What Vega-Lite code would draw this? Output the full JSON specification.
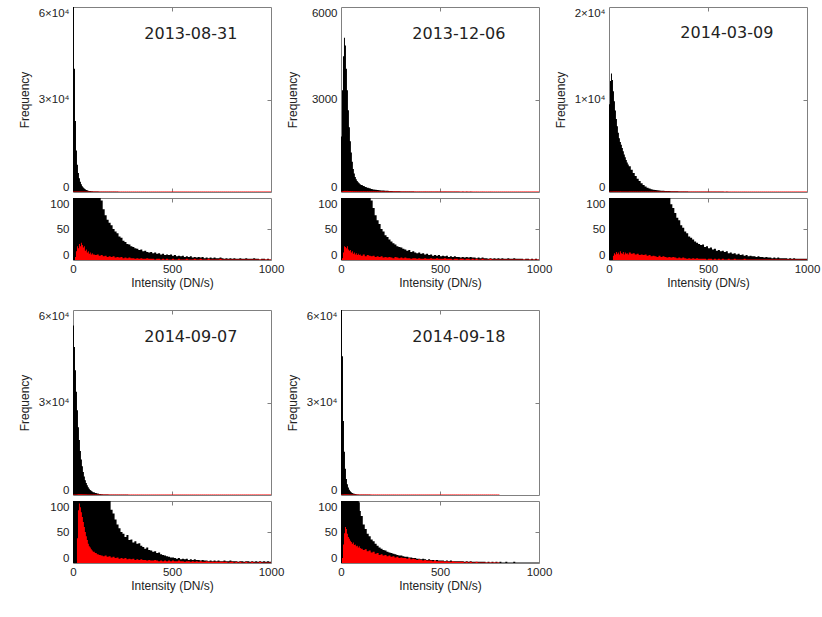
{
"$schema":"https://vega.github.io/schema/vega-lite/v6.json",
"padding":{"left":17,"top":6,"right":5,"bottom":5},
"config":{
 "view":{"stroke":"#808080","strokeWidth":1},
 "axis":{"labelFont":"Liberation Sans","labelFontSize":11.5,"labelColor":"#222","titleFont":"Liberation Sans","titleFontSize":12,"titleFontWeight":"normal","titleColor":"#222","domain":false,"grid":false,"tickColor":"#808080","labelFlush":false,"labelOverlap":false},
 "axisY":{"labelFlush":true}
},
"datasets":{
"p1":[{"x":0,"b":61000,"r":0},{"x":5,"b":40000,"r":0},{"x":10,"b":23000,"r":5},{"x":15,"b":13500,"r":14},{"x":20,"b":8800,"r":22},{"x":25,"b":6200,"r":19},{"x":30,"b":4500,"r":26},{"x":35,"b":3300,"r":22},{"x":40,"b":2500,"r":28},{"x":45,"b":1900,"r":24},{"x":50,"b":1450,"r":20},{"x":55,"b":1100,"r":22},{"x":60,"b":860,"r":15},{"x":65,"b":680,"r":17},{"x":70,"b":540,"r":12},{"x":75,"b":440,"r":14},{"x":80,"b":360,"r":10},{"x":85,"b":300,"r":12},{"x":90,"b":250,"r":9},{"x":95,"b":215,"r":11},{"x":100,"b":180,"r":9},{"x":110,"b":150,"r":8},{"x":120,"b":125,"r":9},{"x":130,"b":106,"r":7},{"x":140,"b":96,"r":8},{"x":150,"b":82,"r":6},{"x":160,"b":72,"r":7},{"x":170,"b":65,"r":5},{"x":180,"b":60,"r":6},{"x":190,"b":56,"r":5},{"x":200,"b":50,"r":6},{"x":210,"b":46,"r":4},{"x":220,"b":43,"r":5},{"x":230,"b":38,"r":4},{"x":240,"b":36,"r":5},{"x":250,"b":31,"r":3},{"x":260,"b":29,"r":4},{"x":270,"b":26,"r":3},{"x":280,"b":25,"r":4},{"x":290,"b":22,"r":3},{"x":300,"b":21,"r":3},{"x":310,"b":19,"r":2},{"x":320,"b":18,"r":3},{"x":330,"b":16,"r":2},{"x":340,"b":17,"r":3},{"x":350,"b":14,"r":2},{"x":360,"b":15,"r":2},{"x":370,"b":13,"r":3},{"x":380,"b":12,"r":2},{"x":390,"b":13,"r":2},{"x":400,"b":11,"r":2},{"x":410,"b":12,"r":1},{"x":420,"b":10,"r":2},{"x":430,"b":11,"r":2},{"x":440,"b":9,"r":1},{"x":450,"b":10,"r":2},{"x":460,"b":8,"r":1},{"x":470,"b":9,"r":2},{"x":480,"b":8,"r":1},{"x":490,"b":9,"r":1},{"x":500,"b":7,"r":2},{"x":510,"b":8,"r":1},{"x":520,"b":6,"r":1},{"x":530,"b":7,"r":2},{"x":540,"b":6,"r":1},{"x":550,"b":7,"r":1},{"x":560,"b":5,"r":1},{"x":570,"b":6,"r":2},{"x":580,"b":5,"r":1},{"x":590,"b":6,"r":1},{"x":600,"b":4,"r":1},{"x":610,"b":5,"r":2},{"x":620,"b":4,"r":1},{"x":630,"b":5,"r":1},{"x":640,"b":4,"r":2},{"x":650,"b":5,"r":1},{"x":660,"b":3,"r":1},{"x":670,"b":4,"r":1},{"x":680,"b":3,"r":2},{"x":690,"b":4,"r":1},{"x":700,"b":3,"r":1},{"x":710,"b":4,"r":1},{"x":720,"b":3,"r":1},{"x":730,"b":3,"r":1},{"x":740,"b":4,"r":2},{"x":750,"b":3,"r":1},{"x":760,"b":2,"r":1},{"x":770,"b":3,"r":1},{"x":780,"b":2,"r":1},{"x":790,"b":3,"r":1},{"x":800,"b":2,"r":1},{"x":810,"b":3,"r":1},{"x":820,"b":2,"r":1},{"x":830,"b":2,"r":1},{"x":840,"b":3,"r":1},{"x":850,"b":2,"r":1},{"x":860,"b":2,"r":1},{"x":870,"b":3,"r":1},{"x":880,"b":2,"r":1},{"x":890,"b":2,"r":1},{"x":900,"b":2,"r":1},{"x":910,"b":3,"r":1},{"x":920,"b":2,"r":1},{"x":930,"b":2,"r":1},{"x":940,"b":1,"r":1},{"x":950,"b":2,"r":1},{"x":960,"b":2,"r":1},{"x":970,"b":1,"r":1},{"x":980,"b":2,"r":1},{"x":990,"b":1,"r":1},{"x":1000,"b":1,"r":1}],
"p2":[{"x":0,"b":1800,"r":0},{"x":5,"b":3300,"r":3},{"x":10,"b":4400,"r":12},{"x":15,"b":5000,"r":22},{"x":20,"b":4750,"r":21},{"x":25,"b":4000,"r":19},{"x":30,"b":3300,"r":22},{"x":35,"b":2650,"r":17},{"x":40,"b":2100,"r":15},{"x":45,"b":1650,"r":16},{"x":50,"b":1280,"r":12},{"x":55,"b":980,"r":14},{"x":60,"b":750,"r":10},{"x":65,"b":600,"r":12},{"x":70,"b":490,"r":9},{"x":75,"b":410,"r":11},{"x":80,"b":360,"r":8},{"x":85,"b":320,"r":10},{"x":90,"b":285,"r":8},{"x":95,"b":255,"r":9},{"x":100,"b":230,"r":7},{"x":110,"b":195,"r":9},{"x":120,"b":165,"r":6},{"x":130,"b":140,"r":8},{"x":140,"b":118,"r":7},{"x":150,"b":96,"r":6},{"x":160,"b":84,"r":7},{"x":170,"b":72,"r":5},{"x":180,"b":64,"r":6},{"x":190,"b":58,"r":5},{"x":200,"b":50,"r":6},{"x":210,"b":46,"r":4},{"x":220,"b":40,"r":5},{"x":230,"b":37,"r":4},{"x":240,"b":33,"r":5},{"x":250,"b":30,"r":4},{"x":260,"b":27,"r":3},{"x":270,"b":25,"r":5},{"x":280,"b":22,"r":4},{"x":290,"b":21,"r":3},{"x":300,"b":20,"r":4},{"x":310,"b":18,"r":3},{"x":320,"b":17,"r":4},{"x":330,"b":15,"r":3},{"x":340,"b":16,"r":3},{"x":350,"b":13,"r":2},{"x":360,"b":14,"r":3},{"x":370,"b":12,"r":3},{"x":380,"b":11,"r":2},{"x":390,"b":12,"r":3},{"x":400,"b":10,"r":2},{"x":410,"b":11,"r":2},{"x":420,"b":9,"r":3},{"x":430,"b":10,"r":2},{"x":440,"b":8,"r":2},{"x":450,"b":9,"r":3},{"x":460,"b":7,"r":2},{"x":470,"b":8,"r":2},{"x":480,"b":7,"r":3},{"x":490,"b":8,"r":2},{"x":500,"b":6,"r":2},{"x":510,"b":7,"r":2},{"x":520,"b":6,"r":3},{"x":530,"b":7,"r":2},{"x":540,"b":5,"r":2},{"x":550,"b":6,"r":2},{"x":560,"b":5,"r":1},{"x":570,"b":6,"r":2},{"x":580,"b":5,"r":2},{"x":590,"b":5,"r":1},{"x":600,"b":4,"r":2},{"x":610,"b":5,"r":2},{"x":620,"b":4,"r":1},{"x":630,"b":5,"r":2},{"x":640,"b":4,"r":2},{"x":650,"b":5,"r":1},{"x":660,"b":4,"r":2},{"x":670,"b":4,"r":1},{"x":680,"b":3,"r":2},{"x":690,"b":4,"r":1},{"x":700,"b":3,"r":1},{"x":710,"b":4,"r":2},{"x":720,"b":3,"r":1},{"x":730,"b":3,"r":1},{"x":740,"b":2,"r":1},{"x":750,"b":3,"r":2},{"x":760,"b":2,"r":1},{"x":770,"b":3,"r":1},{"x":780,"b":2,"r":1},{"x":790,"b":3,"r":1},{"x":800,"b":2,"r":1},{"x":810,"b":3,"r":1},{"x":820,"b":2,"r":1},{"x":830,"b":2,"r":1},{"x":840,"b":3,"r":1},{"x":850,"b":2,"r":1},{"x":860,"b":2,"r":1},{"x":870,"b":3,"r":1},{"x":880,"b":2,"r":1},{"x":890,"b":2,"r":1},{"x":900,"b":2,"r":1},{"x":910,"b":2,"r":1},{"x":920,"b":1,"r":1},{"x":930,"b":2,"r":1},{"x":940,"b":2,"r":1},{"x":950,"b":1,"r":1},{"x":960,"b":2,"r":1},{"x":970,"b":1,"r":1},{"x":980,"b":2,"r":1},{"x":990,"b":1,"r":1},{"x":1000,"b":1,"r":1}],
"p3":[{"x":0,"b":9500,"r":0},{"x":5,"b":12000,"r":0},{"x":10,"b":12800,"r":0},{"x":15,"b":12100,"r":0},{"x":20,"b":10900,"r":7},{"x":25,"b":9800,"r":11},{"x":30,"b":8800,"r":9},{"x":35,"b":7900,"r":13},{"x":40,"b":7100,"r":10},{"x":45,"b":6400,"r":12},{"x":50,"b":5800,"r":9},{"x":55,"b":5400,"r":14},{"x":60,"b":5100,"r":11},{"x":65,"b":4750,"r":10},{"x":70,"b":4400,"r":13},{"x":75,"b":4050,"r":9},{"x":80,"b":3750,"r":12},{"x":85,"b":3450,"r":10},{"x":90,"b":3200,"r":11},{"x":95,"b":2980,"r":9},{"x":100,"b":2780,"r":12},{"x":110,"b":2400,"r":10},{"x":120,"b":2050,"r":11},{"x":130,"b":1730,"r":9},{"x":140,"b":1440,"r":10},{"x":150,"b":1180,"r":8},{"x":160,"b":950,"r":9},{"x":170,"b":760,"r":8},{"x":180,"b":600,"r":9},{"x":190,"b":470,"r":7},{"x":200,"b":370,"r":8},{"x":210,"b":300,"r":6},{"x":220,"b":250,"r":7},{"x":230,"b":210,"r":6},{"x":240,"b":180,"r":5},{"x":250,"b":155,"r":7},{"x":260,"b":138,"r":5},{"x":270,"b":125,"r":6},{"x":280,"b":114,"r":5},{"x":290,"b":108,"r":4},{"x":300,"b":102,"r":5},{"x":310,"b":90,"r":4},{"x":320,"b":84,"r":5},{"x":330,"b":76,"r":4},{"x":340,"b":68,"r":3},{"x":350,"b":64,"r":4},{"x":360,"b":56,"r":3},{"x":370,"b":52,"r":4},{"x":380,"b":46,"r":3},{"x":390,"b":43,"r":2},{"x":400,"b":38,"r":3},{"x":410,"b":36,"r":2},{"x":420,"b":33,"r":3},{"x":430,"b":30,"r":2},{"x":440,"b":28,"r":3},{"x":450,"b":26,"r":2},{"x":460,"b":24,"r":2},{"x":470,"b":25,"r":2},{"x":480,"b":21,"r":2},{"x":490,"b":22,"r":1},{"x":500,"b":19,"r":2},{"x":510,"b":20,"r":2},{"x":520,"b":17,"r":1},{"x":530,"b":18,"r":2},{"x":540,"b":15,"r":1},{"x":550,"b":16,"r":2},{"x":560,"b":14,"r":1},{"x":570,"b":15,"r":2},{"x":580,"b":13,"r":1},{"x":590,"b":14,"r":1},{"x":600,"b":11,"r":2},{"x":610,"b":12,"r":1},{"x":620,"b":10,"r":1},{"x":630,"b":11,"r":2},{"x":640,"b":9,"r":1},{"x":650,"b":10,"r":1},{"x":660,"b":8,"r":1},{"x":670,"b":9,"r":1},{"x":680,"b":7,"r":2},{"x":690,"b":8,"r":1},{"x":700,"b":6,"r":1},{"x":710,"b":7,"r":1},{"x":720,"b":6,"r":1},{"x":730,"b":6,"r":1},{"x":740,"b":5,"r":1},{"x":750,"b":6,"r":1},{"x":760,"b":5,"r":1},{"x":770,"b":5,"r":1},{"x":780,"b":4,"r":1},{"x":790,"b":5,"r":1},{"x":800,"b":4,"r":1},{"x":810,"b":4,"r":1},{"x":820,"b":3,"r":1},{"x":830,"b":4,"r":1},{"x":840,"b":3,"r":1},{"x":850,"b":4,"r":1},{"x":860,"b":3,"r":1},{"x":870,"b":3,"r":1},{"x":880,"b":3,"r":1},{"x":890,"b":3,"r":1},{"x":900,"b":2,"r":1},{"x":910,"b":3,"r":1},{"x":920,"b":2,"r":1},{"x":930,"b":3,"r":1},{"x":940,"b":2,"r":1},{"x":950,"b":2,"r":1},{"x":960,"b":2,"r":1},{"x":970,"b":2,"r":1},{"x":980,"b":2,"r":1},{"x":990,"b":2,"r":1},{"x":1000,"b":2,"r":1}],
"p4":[{"x":0,"b":55000,"r":0},{"x":5,"b":48000,"r":0},{"x":10,"b":40500,"r":0},{"x":15,"b":33500,"r":0},{"x":20,"b":27500,"r":40},{"x":25,"b":22000,"r":85},{"x":30,"b":17800,"r":96},{"x":35,"b":14300,"r":90},{"x":40,"b":11500,"r":82},{"x":45,"b":9300,"r":74},{"x":50,"b":7500,"r":66},{"x":55,"b":6000,"r":58},{"x":60,"b":4800,"r":50},{"x":65,"b":3900,"r":43},{"x":70,"b":3150,"r":37},{"x":75,"b":2550,"r":31},{"x":80,"b":2050,"r":27},{"x":85,"b":1650,"r":25},{"x":90,"b":1350,"r":22},{"x":95,"b":1100,"r":20},{"x":100,"b":900,"r":18},{"x":110,"b":640,"r":16},{"x":120,"b":460,"r":14},{"x":130,"b":340,"r":13},{"x":140,"b":250,"r":12},{"x":150,"b":190,"r":11},{"x":160,"b":150,"r":12},{"x":170,"b":122,"r":10},{"x":180,"b":104,"r":11},{"x":190,"b":86,"r":9},{"x":200,"b":80,"r":10},{"x":210,"b":70,"r":8},{"x":220,"b":62,"r":9},{"x":230,"b":56,"r":7},{"x":240,"b":50,"r":8},{"x":250,"b":47,"r":7},{"x":260,"b":42,"r":8},{"x":270,"b":45,"r":6},{"x":280,"b":37,"r":7},{"x":290,"b":38,"r":6},{"x":300,"b":33,"r":7},{"x":310,"b":35,"r":5},{"x":320,"b":31,"r":6},{"x":330,"b":32,"r":5},{"x":340,"b":28,"r":6},{"x":350,"b":26,"r":5},{"x":360,"b":23,"r":5},{"x":370,"b":25,"r":4},{"x":380,"b":21,"r":5},{"x":390,"b":20,"r":4},{"x":400,"b":18,"r":4},{"x":410,"b":19,"r":5},{"x":420,"b":16,"r":4},{"x":430,"b":17,"r":3},{"x":440,"b":14,"r":4},{"x":450,"b":13,"r":3},{"x":460,"b":12,"r":4},{"x":470,"b":11,"r":3},{"x":480,"b":10,"r":4},{"x":490,"b":9,"r":3},{"x":500,"b":9,"r":4},{"x":510,"b":8,"r":3},{"x":520,"b":7,"r":3},{"x":530,"b":8,"r":4},{"x":540,"b":6,"r":3},{"x":550,"b":7,"r":3},{"x":560,"b":6,"r":2},{"x":570,"b":7,"r":3},{"x":580,"b":5,"r":3},{"x":590,"b":6,"r":2},{"x":600,"b":5,"r":3},{"x":610,"b":6,"r":2},{"x":620,"b":5,"r":3},{"x":630,"b":5,"r":2},{"x":640,"b":4,"r":3},{"x":650,"b":5,"r":2},{"x":660,"b":4,"r":2},{"x":670,"b":4,"r":3},{"x":680,"b":3,"r":2},{"x":690,"b":4,"r":2},{"x":700,"b":3,"r":2},{"x":710,"b":4,"r":2},{"x":720,"b":3,"r":2},{"x":730,"b":4,"r":2},{"x":740,"b":3,"r":2},{"x":750,"b":3,"r":2},{"x":760,"b":4,"r":2},{"x":770,"b":3,"r":2},{"x":780,"b":3,"r":1},{"x":790,"b":4,"r":2},{"x":800,"b":3,"r":2},{"x":810,"b":3,"r":1},{"x":820,"b":3,"r":2},{"x":830,"b":2,"r":1},{"x":840,"b":3,"r":2},{"x":850,"b":3,"r":1},{"x":860,"b":2,"r":1},{"x":870,"b":3,"r":2},{"x":880,"b":3,"r":1},{"x":890,"b":2,"r":1},{"x":900,"b":3,"r":2},{"x":910,"b":2,"r":1},{"x":920,"b":3,"r":1},{"x":930,"b":2,"r":1},{"x":940,"b":3,"r":2},{"x":950,"b":2,"r":1},{"x":960,"b":3,"r":1},{"x":970,"b":2,"r":1},{"x":980,"b":3,"r":1},{"x":990,"b":2,"r":1},{"x":1000,"b":2,"r":1}],
"p5":[{"x":0,"b":64000,"r":0},{"x":5,"b":45000,"r":8},{"x":10,"b":24000,"r":30},{"x":15,"b":14000,"r":48},{"x":20,"b":8500,"r":58},{"x":25,"b":5200,"r":55},{"x":30,"b":3500,"r":47},{"x":35,"b":2400,"r":42},{"x":40,"b":1700,"r":39},{"x":45,"b":1200,"r":36},{"x":50,"b":880,"r":34},{"x":55,"b":660,"r":31},{"x":60,"b":500,"r":33},{"x":65,"b":380,"r":29},{"x":70,"b":290,"r":30},{"x":75,"b":220,"r":27},{"x":80,"b":165,"r":28},{"x":85,"b":125,"r":25},{"x":90,"b":98,"r":27},{"x":95,"b":84,"r":24},{"x":100,"b":76,"r":23},{"x":110,"b":62,"r":21},{"x":120,"b":55,"r":22},{"x":130,"b":47,"r":19},{"x":140,"b":43,"r":20},{"x":150,"b":38,"r":17},{"x":160,"b":35,"r":18},{"x":170,"b":31,"r":15},{"x":180,"b":28,"r":16},{"x":190,"b":25,"r":13},{"x":200,"b":23,"r":14},{"x":210,"b":21,"r":12},{"x":220,"b":20,"r":13},{"x":230,"b":18,"r":11},{"x":240,"b":17,"r":12},{"x":250,"b":16,"r":10},{"x":260,"b":15,"r":11},{"x":270,"b":14,"r":9},{"x":280,"b":13,"r":10},{"x":290,"b":12,"r":8},{"x":300,"b":12,"r":9},{"x":310,"b":11,"r":8},{"x":320,"b":10,"r":8},{"x":330,"b":10,"r":7},{"x":340,"b":9,"r":8},{"x":350,"b":9,"r":6},{"x":360,"b":8,"r":7},{"x":370,"b":8,"r":6},{"x":380,"b":7,"r":5},{"x":390,"b":7,"r":6},{"x":400,"b":6,"r":5},{"x":410,"b":7,"r":4},{"x":420,"b":6,"r":5},{"x":430,"b":5,"r":4},{"x":440,"b":6,"r":4},{"x":450,"b":5,"r":4},{"x":460,"b":5,"r":3},{"x":470,"b":4,"r":4},{"x":480,"b":5,"r":3},{"x":490,"b":4,"r":3},{"x":500,"b":4,"r":3},{"x":510,"b":4,"r":3},{"x":520,"b":3,"r":2},{"x":530,"b":4,"r":3},{"x":540,"b":3,"r":2},{"x":550,"b":4,"r":2},{"x":560,"b":3,"r":3},{"x":570,"b":3,"r":2},{"x":580,"b":3,"r":2},{"x":590,"b":3,"r":2},{"x":600,"b":3,"r":2},{"x":610,"b":3,"r":2},{"x":620,"b":2,"r":1},{"x":630,"b":3,"r":2},{"x":640,"b":2,"r":1},{"x":650,"b":3,"r":2},{"x":660,"b":2,"r":1},{"x":670,"b":2,"r":1},{"x":680,"b":2,"r":2},{"x":690,"b":2,"r":1},{"x":700,"b":2,"r":1},{"x":710,"b":2,"r":1},{"x":720,"b":2,"r":1},{"x":730,"b":1,"r":1},{"x":740,"b":2,"r":1},{"x":750,"b":1,"r":1},{"x":760,"b":2,"r":1},{"x":770,"b":1,"r":1},{"x":780,"b":2,"r":1},{"x":790,"b":1,"r":1},{"x":800,"b":2,"r":0},{"x":810,"b":1,"r":null},{"x":820,"b":1,"r":null},{"x":830,"b":2,"r":null},{"x":840,"b":1,"r":null},{"x":850,"b":1,"r":null},{"x":860,"b":1,"r":null},{"x":870,"b":2,"r":null},{"x":880,"b":1,"r":null},{"x":890,"b":1,"r":null},{"x":900,"b":1,"r":null},{"x":910,"b":1,"r":null},{"x":920,"b":1,"r":null},{"x":930,"b":1,"r":null},{"x":940,"b":1,"r":null},{"x":950,"b":1,"r":null},{"x":960,"b":1,"r":null},{"x":970,"b":1,"r":null},{"x":980,"b":1,"r":null},{"x":990,"b":1,"r":null},{"x":1000,"b":1,"r":null}]
},
"vconcat":[
{"hconcat":[
 {"data":{"name":"p1"},"spacing":4,"vconcat":[
  {"width":198,"height":185,"resolve":{"axis":{"x":"independent","y":"independent"}},"layer":[
   {"mark":{"type":"area","color":"#000000","clip":true,"interpolate":"step-after"},"encoding":{"x":{"field":"x","type":"quantitative","scale":{"domain":[0,1000],"nice":false},"axis":{"orient":"bottom","values":[500],"labels":false,"tickSize":-4,"labelPadding":0,"title":null,"minExtent":0,"maxExtent":0}},"y":{"field":"b","type":"quantitative","scale":{"domain":[0,60000],"nice":false},"axis":{"orient":"left","values":[0,30000,60000],"ticks":false,"labelPadding":4,"labelExpr":"datum.value == 0 ? '0' : format(datum.value/10000,'d') + '×10⁴'","title":"Frequency","minExtent":38,"maxExtent":38,"titlePadding":4}}}},
   {"mark":{"type":"area","color":"#ff0000","clip":true,"interpolate":"step-after","line":{"color":"#ff0000","strokeWidth":1}},"encoding":{"x":{"field":"x","type":"quantitative","axis":{"orient":"top","values":[500],"labels":false,"tickSize":-4,"labelPadding":0,"title":null,"minExtent":0,"maxExtent":0}},"y":{"field":"r","type":"quantitative","axis":{"orient":"right","values":[30000],"labels":false,"tickSize":-4,"labelPadding":0,"title":null,"minExtent":0,"maxExtent":0}}}},
   {"data":{"values":[{"d":"2013-08-31"}]},"mark":{"type":"text","font":"DejaVu Sans","fontSize":16,"color":"#222222"},"encoding":{"x":{"datum":595,"type":"quantitative","axis":null},"y":{"datum":51400,"type":"quantitative","axis":null},"text":{"field":"d"}}}
  ]},
  {"width":198,"height":62,"resolve":{"axis":{"x":"independent","y":"independent"}},"layer":[
   {"mark":{"type":"area","color":"#000000","clip":true,"interpolate":"step-after"},"encoding":{"x":{"field":"x","type":"quantitative","scale":{"domain":[0,1000],"nice":false},"axis":{"orient":"bottom","values":[0,500,1000],"format":"d","ticks":false,"labelPadding":3,"title":"Intensity (DN/s)","titlePadding":3}},"y":{"field":"b","type":"quantitative","scale":{"domain":[0,100],"nice":false},"axis":{"orient":"left","values":[0,50,100],"ticks":false,"labelPadding":4,"title":null,"minExtent":38,"maxExtent":38}}}},
   {"mark":{"type":"area","color":"#ff0000","clip":true,"interpolate":"step-after"},"encoding":{"x":{"field":"x","type":"quantitative","axis":{"orient":"top","values":[500],"labels":false,"tickSize":-4,"labelPadding":0,"title":null,"minExtent":0,"maxExtent":0}},"y":{"field":"r","type":"quantitative","axis":{"orient":"right","values":[50],"labels":false,"tickSize":-4,"labelPadding":0,"title":null,"minExtent":0,"maxExtent":0}}}}
  ]}
 ]},
 {"data":{"name":"p2"},"spacing":4,"vconcat":[
  {"width":198,"height":185,"resolve":{"axis":{"x":"independent","y":"independent"}},"layer":[
   {"mark":{"type":"area","color":"#000000","clip":true,"interpolate":"step-after"},"encoding":{"x":{"field":"x","type":"quantitative","scale":{"domain":[0,1000],"nice":false},"axis":{"orient":"bottom","values":[500],"labels":false,"tickSize":-4,"labelPadding":0,"title":null,"minExtent":0,"maxExtent":0}},"y":{"field":"b","type":"quantitative","scale":{"domain":[0,6000],"nice":false},"axis":{"orient":"left","values":[0,3000,6000],"format":"d","ticks":false,"labelPadding":4,"title":"Frequency","minExtent":38,"maxExtent":38,"titlePadding":4}}}},
   {"mark":{"type":"area","color":"#ff0000","clip":true,"interpolate":"step-after","line":{"color":"#ff0000","strokeWidth":1}},"encoding":{"x":{"field":"x","type":"quantitative","axis":{"orient":"top","values":[500],"labels":false,"tickSize":-4,"labelPadding":0,"title":null,"minExtent":0,"maxExtent":0}},"y":{"field":"r","type":"quantitative","axis":{"orient":"right","values":[3000],"labels":false,"tickSize":-4,"labelPadding":0,"title":null,"minExtent":0,"maxExtent":0}}}},
   {"data":{"values":[{"d":"2013-12-06"}]},"mark":{"type":"text","font":"DejaVu Sans","fontSize":16,"color":"#222222"},"encoding":{"x":{"datum":595,"type":"quantitative","axis":null},"y":{"datum":5140,"type":"quantitative","axis":null},"text":{"field":"d"}}}
  ]},
  {"width":198,"height":62,"resolve":{"axis":{"x":"independent","y":"independent"}},"layer":[
   {"mark":{"type":"area","color":"#000000","clip":true,"interpolate":"step-after"},"encoding":{"x":{"field":"x","type":"quantitative","scale":{"domain":[0,1000],"nice":false},"axis":{"orient":"bottom","values":[0,500,1000],"format":"d","ticks":false,"labelPadding":3,"title":"Intensity (DN/s)","titlePadding":3}},"y":{"field":"b","type":"quantitative","scale":{"domain":[0,100],"nice":false},"axis":{"orient":"left","values":[0,50,100],"ticks":false,"labelPadding":4,"title":null,"minExtent":38,"maxExtent":38}}}},
   {"mark":{"type":"area","color":"#ff0000","clip":true,"interpolate":"step-after"},"encoding":{"x":{"field":"x","type":"quantitative","axis":{"orient":"top","values":[500],"labels":false,"tickSize":-4,"labelPadding":0,"title":null,"minExtent":0,"maxExtent":0}},"y":{"field":"r","type":"quantitative","axis":{"orient":"right","values":[50],"labels":false,"tickSize":-4,"labelPadding":0,"title":null,"minExtent":0,"maxExtent":0}}}}
  ]}
 ]},
 {"data":{"name":"p3"},"spacing":4,"vconcat":[
  {"width":198,"height":185,"resolve":{"axis":{"x":"independent","y":"independent"}},"layer":[
   {"mark":{"type":"area","color":"#000000","clip":true,"interpolate":"step-after"},"encoding":{"x":{"field":"x","type":"quantitative","scale":{"domain":[0,1000],"nice":false},"axis":{"orient":"bottom","values":[500],"labels":false,"tickSize":-4,"labelPadding":0,"title":null,"minExtent":0,"maxExtent":0}},"y":{"field":"b","type":"quantitative","scale":{"domain":[0,20000],"nice":false},"axis":{"orient":"left","values":[0,10000,20000],"ticks":false,"labelPadding":4,"labelExpr":"datum.value == 0 ? '0' : format(datum.value/10000,'d') + '×10⁴'","title":"Frequency","minExtent":38,"maxExtent":38,"titlePadding":4}}}},
   {"mark":{"type":"area","color":"#ff0000","clip":true,"interpolate":"step-after","line":{"color":"#ff0000","strokeWidth":1}},"encoding":{"x":{"field":"x","type":"quantitative","axis":{"orient":"top","values":[500],"labels":false,"tickSize":-4,"labelPadding":0,"title":null,"minExtent":0,"maxExtent":0}},"y":{"field":"r","type":"quantitative","axis":{"orient":"right","values":[10000],"labels":false,"tickSize":-4,"labelPadding":0,"title":null,"minExtent":0,"maxExtent":0}}}},
   {"data":{"values":[{"d":"2014-03-09"}]},"mark":{"type":"text","font":"DejaVu Sans","fontSize":16,"color":"#222222"},"encoding":{"x":{"datum":595,"type":"quantitative","axis":null},"y":{"datum":17140,"type":"quantitative","axis":null},"text":{"field":"d"}}}
  ]},
  {"width":198,"height":62,"resolve":{"axis":{"x":"independent","y":"independent"}},"layer":[
   {"mark":{"type":"area","color":"#000000","clip":true,"interpolate":"step-after"},"encoding":{"x":{"field":"x","type":"quantitative","scale":{"domain":[0,1000],"nice":false},"axis":{"orient":"bottom","values":[0,500,1000],"format":"d","ticks":false,"labelPadding":3,"title":"Intensity (DN/s)","titlePadding":3}},"y":{"field":"b","type":"quantitative","scale":{"domain":[0,100],"nice":false},"axis":{"orient":"left","values":[0,50,100],"ticks":false,"labelPadding":4,"title":null,"minExtent":38,"maxExtent":38}}}},
   {"mark":{"type":"area","color":"#ff0000","clip":true,"interpolate":"step-after"},"encoding":{"x":{"field":"x","type":"quantitative","axis":{"orient":"top","values":[500],"labels":false,"tickSize":-4,"labelPadding":0,"title":null,"minExtent":0,"maxExtent":0}},"y":{"field":"r","type":"quantitative","axis":{"orient":"right","values":[50],"labels":false,"tickSize":-4,"labelPadding":0,"title":null,"minExtent":0,"maxExtent":0}}}}
  ]}
 ]}
],"spacing":0},
{"hconcat":[
 {"data":{"name":"p4"},"spacing":4,"vconcat":[
  {"width":198,"height":185,"resolve":{"axis":{"x":"independent","y":"independent"}},"layer":[
   {"mark":{"type":"area","color":"#000000","clip":true,"interpolate":"step-after"},"encoding":{"x":{"field":"x","type":"quantitative","scale":{"domain":[0,1000],"nice":false},"axis":{"orient":"bottom","values":[500],"labels":false,"tickSize":-4,"labelPadding":0,"title":null,"minExtent":0,"maxExtent":0}},"y":{"field":"b","type":"quantitative","scale":{"domain":[0,60000],"nice":false},"axis":{"orient":"left","values":[0,30000,60000],"ticks":false,"labelPadding":4,"labelExpr":"datum.value == 0 ? '0' : format(datum.value/10000,'d') + '×10⁴'","title":"Frequency","minExtent":38,"maxExtent":38,"titlePadding":4}}}},
   {"mark":{"type":"area","color":"#ff0000","clip":true,"interpolate":"step-after","line":{"color":"#ff0000","strokeWidth":1}},"encoding":{"x":{"field":"x","type":"quantitative","axis":{"orient":"top","values":[500],"labels":false,"tickSize":-4,"labelPadding":0,"title":null,"minExtent":0,"maxExtent":0}},"y":{"field":"r","type":"quantitative","axis":{"orient":"right","values":[30000],"labels":false,"tickSize":-4,"labelPadding":0,"title":null,"minExtent":0,"maxExtent":0}}}},
   {"data":{"values":[{"d":"2014-09-07"}]},"mark":{"type":"text","font":"DejaVu Sans","fontSize":16,"color":"#222222"},"encoding":{"x":{"datum":595,"type":"quantitative","axis":null},"y":{"datum":51400,"type":"quantitative","axis":null},"text":{"field":"d"}}}
  ]},
  {"width":198,"height":62,"resolve":{"axis":{"x":"independent","y":"independent"}},"layer":[
   {"mark":{"type":"area","color":"#000000","clip":true,"interpolate":"step-after"},"encoding":{"x":{"field":"x","type":"quantitative","scale":{"domain":[0,1000],"nice":false},"axis":{"orient":"bottom","values":[0,500,1000],"format":"d","ticks":false,"labelPadding":3,"title":"Intensity (DN/s)","titlePadding":3}},"y":{"field":"b","type":"quantitative","scale":{"domain":[0,100],"nice":false},"axis":{"orient":"left","values":[0,50,100],"ticks":false,"labelPadding":4,"title":null,"minExtent":38,"maxExtent":38}}}},
   {"mark":{"type":"area","color":"#ff0000","clip":true,"interpolate":"step-after"},"encoding":{"x":{"field":"x","type":"quantitative","axis":{"orient":"top","values":[500],"labels":false,"tickSize":-4,"labelPadding":0,"title":null,"minExtent":0,"maxExtent":0}},"y":{"field":"r","type":"quantitative","axis":{"orient":"right","values":[50],"labels":false,"tickSize":-4,"labelPadding":0,"title":null,"minExtent":0,"maxExtent":0}}}}
  ]}
 ]},
 {"data":{"name":"p5"},"spacing":4,"vconcat":[
  {"width":198,"height":185,"resolve":{"axis":{"x":"independent","y":"independent"}},"layer":[
   {"mark":{"type":"area","color":"#000000","clip":true,"interpolate":"step-after"},"encoding":{"x":{"field":"x","type":"quantitative","scale":{"domain":[0,1000],"nice":false},"axis":{"orient":"bottom","values":[500],"labels":false,"tickSize":-4,"labelPadding":0,"title":null,"minExtent":0,"maxExtent":0}},"y":{"field":"b","type":"quantitative","scale":{"domain":[0,60000],"nice":false},"axis":{"orient":"left","values":[0,30000,60000],"ticks":false,"labelPadding":4,"labelExpr":"datum.value == 0 ? '0' : format(datum.value/10000,'d') + '×10⁴'","title":"Frequency","minExtent":38,"maxExtent":38,"titlePadding":4}}}},
   {"mark":{"type":"area","color":"#ff0000","clip":true,"interpolate":"step-after","line":{"color":"#ff0000","strokeWidth":1}},"encoding":{"x":{"field":"x","type":"quantitative","axis":{"orient":"top","values":[500],"labels":false,"tickSize":-4,"labelPadding":0,"title":null,"minExtent":0,"maxExtent":0}},"y":{"field":"r","type":"quantitative","axis":{"orient":"right","values":[30000],"labels":false,"tickSize":-4,"labelPadding":0,"title":null,"minExtent":0,"maxExtent":0}}}},
   {"data":{"values":[{"d":"2014-09-18"}]},"mark":{"type":"text","font":"DejaVu Sans","fontSize":16,"color":"#222222"},"encoding":{"x":{"datum":595,"type":"quantitative","axis":null},"y":{"datum":51400,"type":"quantitative","axis":null},"text":{"field":"d"}}}
  ]},
  {"width":198,"height":62,"resolve":{"axis":{"x":"independent","y":"independent"}},"layer":[
   {"mark":{"type":"area","color":"#000000","clip":true,"interpolate":"step-after"},"encoding":{"x":{"field":"x","type":"quantitative","scale":{"domain":[0,1000],"nice":false},"axis":{"orient":"bottom","values":[0,500,1000],"format":"d","ticks":false,"labelPadding":3,"title":"Intensity (DN/s)","titlePadding":3}},"y":{"field":"b","type":"quantitative","scale":{"domain":[0,100],"nice":false},"axis":{"orient":"left","values":[0,50,100],"ticks":false,"labelPadding":4,"title":null,"minExtent":38,"maxExtent":38}}}},
   {"mark":{"type":"area","color":"#ff0000","clip":true,"interpolate":"step-after"},"encoding":{"x":{"field":"x","type":"quantitative","axis":{"orient":"top","values":[500],"labels":false,"tickSize":-4,"labelPadding":0,"title":null,"minExtent":0,"maxExtent":0}},"y":{"field":"r","type":"quantitative","axis":{"orient":"right","values":[50],"labels":false,"tickSize":-4,"labelPadding":0,"title":null,"minExtent":0,"maxExtent":0}}}}
  ]}
 ]}
],"spacing":0}
],"spacing":20
}
